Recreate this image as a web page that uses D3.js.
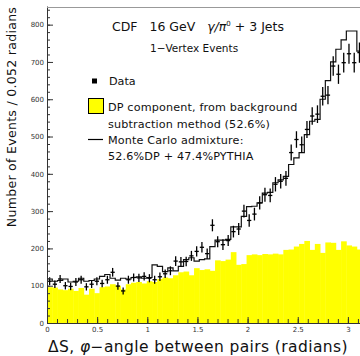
<!DOCTYPE html>
<html>
<head>
<meta charset="utf-8">
<script src="https://cdn.jsdelivr.net/npm/d3@7"></script>
<style>
  body { margin: 0; background: #fff; }
  svg { display: block; font-family: "DejaVu Sans", sans-serif; }
</style>
</head>
<body>
<svg id="chart" width="360" height="356"></svg>
<script>
// 60 bins of 0.052 rad from 0 to pi
const nBins = 60;
const binWidth = Math.PI / nBins;

// measured data (events per bin)
const dataCounts = [
  112, 104, 118, 100, 98, 110, 116, 97, 104, 112,
  106, 116, 136, 99, 86, 116, 122, 121, 125, 120,
  116, 124, 132, 140, 166, 164, 165, 180, 192, 203,
  186, 262, 218, 210, 221, 245, 252, 300, 275, 292,
  322, 344, 342, 372, 380, 388, 457, 492, 478, 519,
  555, 560, 608, 611, 689, 667, 698, 722, 698, 725
];

// Monte Carlo admixture 52.6% DP + 47.4% PYTHIA
const mcCounts = [
  118, 112, 114, 118, 110, 112, 120, 112, 114, 118,
  125, 130, 120, 115, 120, 118, 122, 124, 120, 122,
  156, 152, 138, 148, 140, 152, 170, 175, 166, 170,
  172, 205, 222, 222, 224, 258, 258, 286, 312, 313,
  322, 348, 350, 376, 384, 393, 425, 443, 457, 505,
  541, 546, 600, 650, 700, 734, 759, 783, 783, 729
];

// DP component from background subtraction
const dpCounts = [
  96, 95, 90, 88, 92, 86, 94, 76, 92, 80,
  96, 98, 104, 100, 90, 104, 108, 110, 106, 112,
  110, 118, 122, 120, 128, 136, 138, 128, 147, 142,
  144, 140, 168, 166, 170, 190, 156, 158, 182, 184,
  182, 185, 184, 186, 184, 196, 197, 205, 212, 220,
  196, 212, 188, 216, 215, 196, 219, 208, 205, 197
];

const xMajor = [0, 0.5, 1, 1.5, 2, 2.5, 3];
const xMinor = d3.range(0, 3.15, 0.1);
const yMajor = [0, 100, 200, 300, 400, 500, 600, 700, 800];
const yMinor = d3.range(0, 850, 20);

const svg = d3.select("#chart");

const x = d3.scaleLinear().domain([0, Math.PI]).range([47, 47 + Math.PI * 100.3]);
const y = d3.scaleLinear().domain([0, 850]).range([323, 6]);

const bins = d3.range(nBins).map(i => ({
  x0: i * binWidth,
  x1: (i + 1) * binWidth,
  data: dataCounts[i],
  mc: mcCounts[i],
  dp: dpCounts[i]
}));

// yellow DP histogram
svg.append("g")
  .selectAll("rect")
  .data(bins)
  .join("rect")
  .attr("x", d => x(d.x0))
  .attr("y", d => y(d.dp))
  .attr("width", d => x(d.x1) - x(d.x0) + 0.4)
  .attr("height", d => y(0) - y(d.dp))
  .attr("fill", "#ffff00");

// MC step outline
const stepPts = bins.map(d => [d.x0, d.mc]);
stepPts.push([Math.PI, mcCounts[nBins - 1]]);
svg.append("path")
  .attr("d", d3.line().x(d => x(d[0])).y(d => y(d[1])).curve(d3.curveStepAfter)(stepPts))
  .attr("fill", "none")
  .attr("stroke", "#111")
  .attr("stroke-width", 1.2);

// data crosses
const pts = svg.append("g").attr("stroke", "#000").attr("stroke-width", 1.3);
pts.selectAll("line.v")
  .data(bins)
  .join("line")
  .attr("class", "v")
  .attr("x1", d => x((d.x0 + d.x1) / 2))
  .attr("x2", d => x((d.x0 + d.x1) / 2))
  .attr("y1", d => y(d.data - Math.sqrt(d.data)))
  .attr("y2", d => y(d.data + Math.sqrt(d.data)));
pts.selectAll("line.h")
  .data(bins)
  .join("line")
  .attr("class", "h")
  .attr("x1", d => x(d.x0) + 0.5)
  .attr("x2", d => x(d.x1) - 0.5)
  .attr("y1", d => y(d.data))
  .attr("y2", d => y(d.data));

// axes, ticks pointing inward
svg.append("g").attr("transform", `translate(${x(0)},0)`)
  .call(d3.axisLeft(y).tickValues(yMajor).tickSize(-6).tickSizeOuter(0).tickPadding(3));
svg.append("g").attr("transform", `translate(${x(0)},0)`)
  .call(d3.axisLeft(y).tickValues(yMinor).tickSize(-3).tickSizeOuter(0).tickFormat(""))
  .select(".domain").remove();

svg.append("g").attr("transform", `translate(0,${y(0)})`)
  .call(d3.axisBottom(x).tickValues(xMajor).tickSize(-6).tickSizeOuter(0).tickPadding(4).tickFormat(d3.format("")));
svg.append("g").attr("transform", `translate(0,${y(0)})`)
  .call(d3.axisBottom(x).tickValues(xMinor).tickSize(-4).tickSizeOuter(0).tickFormat(""))
  .select(".domain").remove();

svg.selectAll(".tick text").attr("font-size", 7).attr("fill", "#333").attr("font-family", "DejaVu Sans");
svg.selectAll(".domain, .tick line").attr("stroke", "#333");

// top frame line
svg.append("line")
  .attr("x1", x(0)).attr("x2", 360)
  .attr("y1", 7.5).attr("y2", 7.5)
  .attr("stroke", "#999").attr("stroke-width", 1);

// titles
svg.append("text")
  .attr("x", 198).attr("y", 352)
  .attr("text-anchor", "middle")
  .attr("font-size", 15.5).attr("letter-spacing", 0.4).attr("fill", "#111")
  .html('ΔS, <tspan font-style="italic">φ</tspan>−angle between pairs (radians)');

svg.append("text")
  .attr("transform", "translate(16,117) rotate(-90)")
  .attr("text-anchor", "middle")
  .attr("font-size", 12.5).attr("letter-spacing", 0.3).attr("fill", "#111")
  .text("Number of Events / 0.052 radians");

svg.append("text")
  .attr("x", 112).attr("y", 30.5)
  .attr("font-size", 12.5).attr("fill", "#111")
  .html('CDF&#160;&#160;&#160;16 GeV&#160;&#160;&#160;<tspan font-style="italic">γ/π</tspan><tspan dy="-5" font-size="7">0</tspan><tspan dy="5"> + 3 Jets</tspan>');

svg.append("text")
  .attr("x", 150).attr("y", 52)
  .attr("font-size", 10.5).attr("fill", "#111")
  .text("1−Vertex Events");

// legend
svg.append("rect").attr("x", 92).attr("y", 78.5).attr("width", 5).attr("height", 5).attr("fill", "#000");
svg.append("text").attr("x", 109).attr("y", 85).attr("font-size", 11.2).attr("fill", "#111").text("Data");

svg.append("rect").attr("x", 88.5).attr("y", 98.5).attr("width", 15).attr("height", 15)
  .attr("fill", "#ffff00").attr("stroke", "#000").attr("stroke-width", 1);
svg.append("text").attr("x", 108).attr("y", 111).attr("font-size", 11.2).attr("letter-spacing", 0.15).attr("fill", "#111")
  .text("DP component, from background");
svg.append("text").attr("x", 108).attr("y", 127.5).attr("font-size", 11.2).attr("letter-spacing", 0.15).attr("fill", "#111")
  .text("subtraction method (52.6%)");

svg.append("line").attr("x1", 88).attr("x2", 103).attr("y1", 139.5).attr("y2", 139.5)
  .attr("stroke", "#000").attr("stroke-width", 1.2);
svg.append("text").attr("x", 108).attr("y", 144).attr("font-size", 11.2).attr("letter-spacing", 0.15).attr("fill", "#111")
  .text("Monte Carlo admixture:");
svg.append("text").attr("x", 108).attr("y", 160).attr("font-size", 11.2).attr("letter-spacing", 0.15).attr("fill", "#111")
  .text("52.6%DP + 47.4%PYTHIA");
</script>
</body>
</html>
